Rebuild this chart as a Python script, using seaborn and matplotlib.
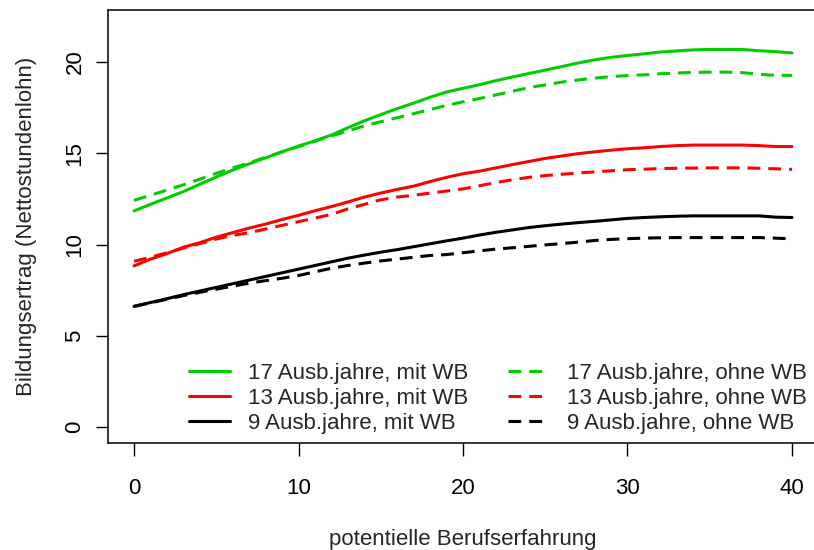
import matplotlib
matplotlib.use("Agg")
import matplotlib.pyplot as plt
import seaborn as sns
import pandas as pd
from matplotlib.lines import Line2D

# ---- data ----
years = list(range(0, 41))

g17_mit = [11.84, 12.2, 12.55, 12.9, 13.3, 13.7, 14.08, 14.42, 14.75, 15.08,
           15.4, 15.68, 16.0, 16.4, 16.78, 17.12, 17.45, 17.75, 18.07, 18.36,
           18.56, 18.76, 18.98, 19.18, 19.37, 19.56, 19.75, 19.95, 20.12, 20.26,
           20.36, 20.45, 20.55, 20.61, 20.67, 20.69, 20.69, 20.69, 20.62, 20.57, 20.5]
g17_ohne = [12.42, 12.7, 12.98, 13.27, 13.58, 13.9, 14.2, 14.48, 14.78, 15.08,
            15.36, 15.66, 15.95, 16.22, 16.5, 16.73, 16.95, 17.17, 17.4, 17.62,
            17.82, 18.0, 18.2, 18.4, 18.6, 18.75, 18.9, 19.02, 19.12, 19.2,
            19.26, 19.3, 19.36, 19.4, 19.43, 19.45, 19.45, 19.42, 19.33, 19.27, 19.27]
g13_mit = [8.83, 9.2, 9.5, 9.85, 10.1, 10.4, 10.65, 10.9, 11.12, 11.37,
           11.6, 11.85, 12.08, 12.33, 12.6, 12.82, 13.02, 13.2, 13.45, 13.68,
           13.88, 14.02, 14.2, 14.38, 14.55, 14.72, 14.85, 14.98, 15.08, 15.17,
           15.25, 15.3, 15.37, 15.42, 15.45, 15.45, 15.45, 15.45, 15.42, 15.37, 15.37]
g13_ohne = [9.08, 9.3, 9.55, 9.8, 10.05, 10.3, 10.5, 10.65, 10.85, 11.05,
            11.25, 11.45, 11.65, 11.95, 12.2, 12.45, 12.6, 12.7, 12.82, 12.93,
            13.05, 13.22, 13.4, 13.55, 13.68, 13.78, 13.85, 13.92, 13.98, 14.04,
            14.1, 14.13, 14.16, 14.18, 14.19, 14.2, 14.2, 14.2, 14.18, 14.15, 14.12]
g9_mit = [6.61, 6.82, 7.03, 7.25, 7.45, 7.65, 7.85, 8.05, 8.25, 8.45,
          8.65, 8.85, 9.05, 9.25, 9.42, 9.58, 9.72, 9.88, 10.04, 10.2,
          10.35, 10.52, 10.67, 10.8, 10.93, 11.03, 11.12, 11.2, 11.27, 11.35,
          11.43, 11.48, 11.52, 11.55, 11.57, 11.57, 11.57, 11.57, 11.57, 11.5, 11.48]
g9_ohne = [6.61, 6.8, 7.0, 7.2, 7.38, 7.55, 7.72, 7.88, 8.02, 8.15,
           8.3, 8.5, 8.7, 8.85, 8.98, 9.1, 9.2, 9.3, 9.4, 9.45,
           9.55, 9.65, 9.75, 9.82, 9.9, 9.98, 10.05, 10.13, 10.22, 10.28,
           10.32, 10.35, 10.37, 10.38, 10.38, 10.38, 10.38, 10.38, 10.38, 10.35, 10.31]

labels = ["17 Ausb.jahre, mit WB", "13 Ausb.jahre, mit WB", "9 Ausb.jahre, mit WB",
          "17 Ausb.jahre, ohne WB", "13 Ausb.jahre, ohne WB", "9 Ausb.jahre, ohne WB"]
series = [g17_mit, g13_mit, g9_mit, g17_ohne, g13_ohne, g9_ohne]
colors = ["#00CD00", "#FF0000", "#000000", "#00CD00", "#FF0000", "#000000"]
dashed = [False, False, False, True, True, True]

x_ticks = [0, 10, 20, 30, 40]
y_ticks = [0, 5, 10, 15, 20]

# ---- build long frame ----
rows = []
for lab, vals in zip(labels, series):
    for xv, yv in zip(years, vals):
        rows.append({"x": xv, "y": yv, "serie": lab})
df = pd.DataFrame(rows)

sns.set_style("ticks")
plt.rcParams["font.family"] = ["Liberation Sans", "DejaVu Sans"]
plt.rcParams["font.size"] = 16

DASH = (4.2, 2.6)
palette = dict(zip(labels, colors))
dash_map = {lab: (DASH if d else "") for lab, d in zip(labels, dashed)}

fig = plt.figure(figsize=(8.14, 5.5), dpi=100)
ax = fig.add_axes([0.1323, 0.1945, 0.873, 0.7882])

sns.lineplot(data=df, x="x", y="y", hue="serie", style="serie",
             palette=palette, dashes=dash_map, hue_order=labels, style_order=labels,
             linewidth=2.2, legend=False, ax=ax)

ax.set_xlim(-1.6, 41.6)
ax.set_ylim(-0.88, 22.88)
ax.set_xticks(x_ticks)
ax.set_yticks(y_ticks)
ax.set_xticklabels([str(v) for v in x_ticks])
ax.set_yticklabels([str(v) for v in y_ticks], rotation=90, va="center")

for s in ax.spines.values():
    s.set_visible(True)
    s.set_linewidth(1.1)
    s.set_color("black")

ax.tick_params(axis="both", direction="out", length=9, width=1.0, color="black",
               labelsize=16, labelcolor="black")
ax.tick_params(axis="x", pad=16)
ax.tick_params(axis="y", pad=7)

ax.set_xlabel("potentielle Berufserfahrung", fontsize=16, labelpad=22)
ax.set_ylabel("Bildungsertrag (Nettostundenlohn)", fontsize=16, labelpad=20)

handles = [Line2D([0], [0], color=c, lw=2.2, linestyle=((0, DASH) if d else "-"))
           for c, d in zip(colors, dashed)]
leg = ax.legend(handles, labels, ncol=2, frameon=False, loc="upper left",
                bbox_to_anchor=(0.1144, 0.185), borderpad=0, borderaxespad=0,
                handlelength=1.85, handletextpad=0.8, columnspacing=1.8,
                labelspacing=0.18, fontsize=16)

fig.savefig("out.png", dpi=100)
